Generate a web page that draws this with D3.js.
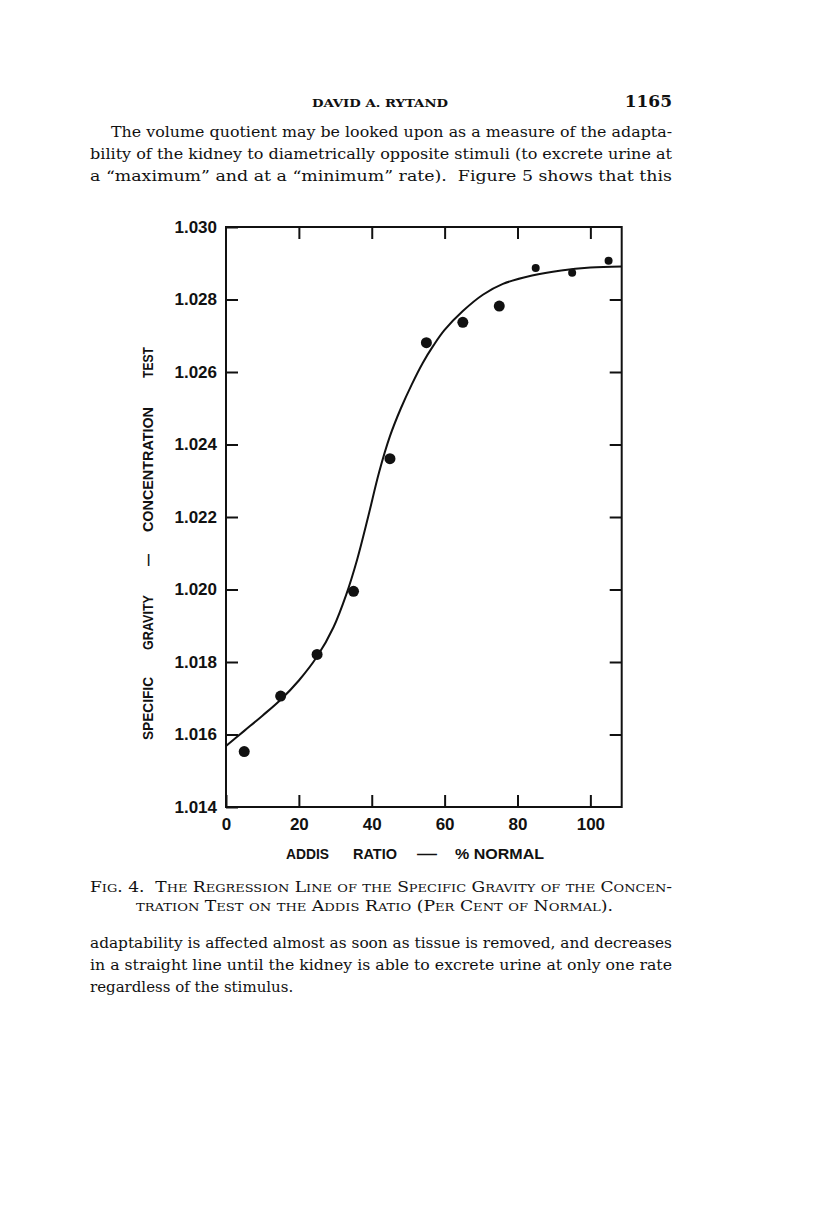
<!DOCTYPE html>
<html><head><meta charset="utf-8">
<script src="https://cdn.jsdelivr.net/npm/d3@7/dist/d3.min.js"></script>
<style>body{margin:0;background:#fff}svg{display:block}</style>
</head><body>
<svg id="c" width="816" height="1227"></svg>
<script>
// ---- data ----
const pointX = [5, 15, 25, 35, 45, 55, 65, 75, 85, 95, 105];
const pointY = [1.01553, 1.01706, 1.01821, 1.01995, 1.02361, 1.02681, 1.02737, 1.02782, 1.02887, 1.02874, 1.02907];
const curveX = [0, 5, 10, 15, 20, 25, 29.5, 33, 36, 39, 42, 45, 48, 51, 54, 57, 60, 65, 70.5, 76, 84, 92, 100, 108.6];
const curveY = [1.01568, 1.01610, 1.01652, 1.01696, 1.01749, 1.01815, 1.01896, 1.01986, 1.02083, 1.02200, 1.02323, 1.02423, 1.02500, 1.02566, 1.02625, 1.02674, 1.02716, 1.02768, 1.02813, 1.02843, 1.02866, 1.02880, 1.02888, 1.02891];
const xTicks = [0, 20, 40, 60, 80, 100];
const yTicks = [1.014, 1.016, 1.018, 1.020, 1.022, 1.024, 1.026, 1.028, 1.030];
const yTickLabels = ["1.014", "1.016", "1.018", "1.020", "1.022", "1.024", "1.026", "1.028", "1.030"];
const xTitleWords = ["ADDIS", "RATIO", "\u2014", "% NORMAL"];
const yTitleWords = ["SPECIFIC", "GRAVITY", "\u2014", "CONCENTRATION", "TEST"];
const headerLeft = "DAVID A. RYTAND";
const headerRight = "1165";
const topLines = [
  "The volume quotient may be looked upon as a measure of the adapta-",
  "bility of the kidney to diametrically opposite stimuli (to excrete urine at",
  "a \u201cmaximum\u201d and at a \u201cminimum\u201d rate).  Figure 5 shows that this"
];
const captionLines = [
  "Fig. 4.  The Regression Line of the Specific Gravity of the Concen-",
  "tration Test on the Addis Ratio (Per Cent of Normal)."
];
const bottomLines = [
  "adaptability is affected almost as soon as tissue is removed, and decreases",
  "in a straight line until the kidney is able to excrete urine at only one rate",
  "regardless of the stimulus."
];

// ---- layout ----
const svg = d3.select("#c");
const L = 226, R = 621.7, T = 227, B = 807;
const x = d3.scaleLinear().domain([0, 108.6]).range([L, R]);
const y = d3.scaleLinear().domain([1.014, 1.030]).range([B, T]);
const ink = "#111";
const serif = "'DejaVu Serif', 'Liberation Serif', serif";
const sans = "'Liberation Sans', Arial, sans-serif";

// frame
svg.append("rect").attr("x", L).attr("y", T).attr("width", R - L).attr("height", B - T)
  .attr("fill", "none").attr("stroke", ink).attr("stroke-width", 2);

function styleAxis(g) {
  g.select(".domain").remove();
  g.selectAll(".tick line").attr("stroke", ink).attr("stroke-width", 2);
  g.selectAll(".tick text").attr("fill", ink).attr("font-family", sans)
    .attr("font-weight", "bold").attr("font-size", 17);
}
svg.append("g").attr("transform", `translate(0,${B})`)
  .call(d3.axisBottom(x).tickValues(xTicks).tickSizeInner(-12).tickSizeOuter(0).tickPadding(11).tickFormat(d3.format("d")))
  .call(styleAxis);
svg.append("g").attr("transform", `translate(0,${T})`)
  .call(d3.axisTop(x).tickValues(xTicks.slice(1)).tickSizeInner(-12).tickSizeOuter(0).tickFormat(""))
  .call(styleAxis);
svg.append("g").attr("transform", `translate(${L},0)`)
  .call(d3.axisLeft(y).tickValues(yTicks).tickSizeInner(-12).tickSizeOuter(0).tickPadding(9)
    .tickFormat((d, i) => yTickLabels[i]))
  .call(styleAxis);
svg.append("g").attr("transform", `translate(${R},0)`)
  .call(d3.axisRight(y).tickValues(yTicks.slice(1, -1)).tickSizeInner(-12).tickSizeOuter(0).tickFormat(""))
  .call(styleAxis);

// regression curve
const curveData = curveX.map((v, i) => [v, curveY[i]]);
svg.append("path").datum(curveData)
  .attr("d", d3.line().x(d => x(d[0])).y(d => y(d[1])).curve(d3.curveCatmullRom.alpha(0.5)))
  .attr("fill", "none").attr("stroke", ink).attr("stroke-width", 2);

// points
const pts = pointX.map((v, i) => ({ x: v, y: pointY[i] }));
svg.append("g").selectAll("circle").data(pts).join("circle")
  .attr("cx", d => x(d.x)).attr("cy", d => y(d.y))
  .attr("r", d => d.x > 80 ? 4 : 5.5).attr("fill", ink);

// x title
const xWordPos = [[286, 43], [353, 44], [417, 20], [455, 89]];
xTitleWords.forEach((w, i) => {
  svg.append("text").attr("x", xWordPos[i][0]).attr("y", 859)
    .attr("textLength", xWordPos[i][1]).attr("lengthAdjust", "spacingAndGlyphs")
    .attr("font-family", sans).attr("font-weight", "bold").attr("font-size", 15.5)
    .attr("fill", ink).text(w);
});
// y title (rotated)
const yWordPos = [[740, 63], [650, 55], [566, 12], [532, 125], [378, 31]];
yTitleWords.forEach((w, i) => {
  svg.append("text").attr("transform", `translate(152.7,${yWordPos[i][0]}) rotate(-90)`)
    .attr("textLength", yWordPos[i][1]).attr("lengthAdjust", "spacingAndGlyphs")
    .attr("font-family", sans).attr("font-weight", "bold").attr("font-size", 15.5)
    .attr("fill", ink).text(w);
});

// ---- surrounding page text ----
const CL = 90, CR = 672;
svg.append("text").attr("x", 312).attr("y", 107).attr("textLength", 136).attr("lengthAdjust", "spacingAndGlyphs")
  .attr("font-family", serif).attr("font-size", 11.5).attr("font-weight", "bold").attr("fill", ink).text(headerLeft);
svg.append("text").attr("x", CR).attr("y", 107).attr("text-anchor", "end")
  .attr("font-family", serif).attr("font-size", 17).attr("font-weight", "bold").attr("fill", ink).text(headerRight);

function proseLine(str, x0, x1, yy, justify) {
  const t = svg.append("text").attr("x", x0).attr("y", yy).attr("xml:space", "preserve")
    .attr("font-family", serif).attr("font-size", 15).attr("fill", ink).text(str);
  if (justify) t.attr("textLength", x1 - x0).attr("lengthAdjust", "spacingAndGlyphs");
}
proseLine(topLines[0], 111, CR, 137, true);
proseLine(topLines[1], CL, CR, 159, true);
proseLine(topLines[2], CL, CR, 181, true);
proseLine(bottomLines[0], CL, CR, 948, true);
proseLine(bottomLines[1], CL, CR, 970, true);
proseLine(bottomLines[2], CL, CR, 992, false);

// small caps caption
function smallCaps(str, x0, x1, yy) {
  const t = svg.append("text").attr("x", x0).attr("y", yy).attr("xml:space", "preserve")
    .attr("font-family", serif).attr("fill", ink)
    .attr("textLength", x1 - x0).attr("lengthAdjust", "spacingAndGlyphs");
  const runs = [];
  for (const ch of str) {
    const small = ch !== ch.toUpperCase();
    const last = runs[runs.length - 1];
    if (last && last.small === small) last.s += ch; else runs.push({ small, s: ch });
  }
  runs.forEach(r => t.append("tspan").attr("font-size", r.small ? 11 : 14.5).text(r.small ? r.s.toUpperCase() : r.s));
}
smallCaps(captionLines[0], CL, CR, 892);
smallCaps(captionLines[1], 136, 613, 911);
</script>
</body></html>
